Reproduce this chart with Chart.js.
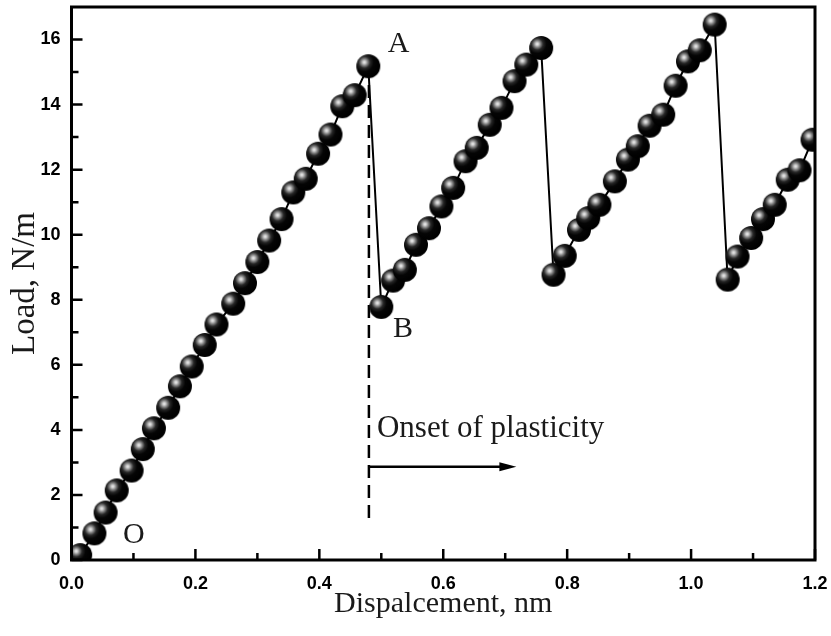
<!DOCTYPE html>
<html><head><meta charset="utf-8">
<script src="https://cdn.jsdelivr.net/npm/chart.js@4/dist/chart.umd.min.js"></script>
<style>html,body{margin:0;padding:0;background:#fff;}</style>
</head><body>
<canvas id="c" width="831" height="636"></canvas>
<script>
// ---- data ----
const displacement = [0.014,0.037,0.055,0.073,0.097,0.115,0.133,0.156,0.175,0.194,0.215,0.234,0.261,0.280,0.300,0.319,0.339,0.358,0.378,0.398,0.418,0.437,0.457,0.479,
  0.500,0.519,0.538,0.556,0.577,0.597,0.616,0.636,0.654,0.675,0.694,0.715,0.734,0.758,
  0.778,0.796,0.819,0.834,0.852,0.877,0.898,0.914,0.933,0.955,0.975,0.995,1.014,1.038,
  1.059,1.075,1.097,1.116,1.135,1.156,1.175,1.196];
const load = [0.15,0.82,1.46,2.14,2.75,3.41,4.05,4.68,5.34,5.95,6.61,7.24,7.88,8.51,9.16,9.82,10.48,11.30,11.72,12.49,13.08,13.95,14.29,15.18,
  7.78,8.59,8.92,9.69,10.20,10.87,11.44,12.26,12.67,13.38,13.90,14.72,15.23,15.74,
  8.77,9.35,10.15,10.51,10.92,11.64,12.31,12.72,13.35,13.69,14.58,15.33,15.67,16.46,
  8.62,9.33,9.90,10.48,10.92,11.69,11.98,12.92];
const xTicks = [0,0.2,0.4,0.6,0.8,1.0,1.2];
const xMinorTicks = [0.1,0.3,0.5,0.7,0.9,1.1];
const yTicks = [0,2,4,6,8,10,12,14,16];
const yMinorTicks = [1,3,5,7,9,11,13,15];
const onsetX = 0.48;
const onsetDash = [1.2, 14.6];
const arrowY = 2.87;
const arrowEndX = 0.718;
const notes = [
  {text:'A', x:0.528, y:15.63, align:'center'},
  {text:'B', x:0.519, y:6.86, align:'left'},
  {text:'O', x:0.083, y:0.52, align:'left'},
  {text:'Onset of plasticity', x:0.493, y:3.78, align:'left'}
];

function makeBall(r){
  const s = Math.ceil(r*2+2);
  const c = document.createElement('canvas'); c.width = s; c.height = s;
  const g = c.getContext('2d'); const cx = s/2, cy = s/2;
  const hx = cx - r*0.33, hy = cy - r*0.33;
  const grad = g.createRadialGradient(hx, hy, 0, hx, hy, r*1.3);
  grad.addColorStop(0, '#f4f4f4');
  grad.addColorStop(0.1, '#c8c8c8');
  grad.addColorStop(0.22, '#808080');
  grad.addColorStop(0.38, '#262626');
  grad.addColorStop(0.6, '#050505');
  grad.addColorStop(1, '#000000');
  g.fillStyle = grad; g.beginPath(); g.arc(cx, cy, r, 0, Math.PI*2); g.fill();
  return c;
}
const ball = makeBall(12);

const serif = "'Liberation Serif', 'Times New Roman', serif";
const sans = "'Liberation Sans', Arial, sans-serif";

const annot = {
  id:'annot',
  beforeDatasetsDraw(chart){
    const {ctx, scales:{x,y}} = chart;
    ctx.save();
    ctx.strokeStyle = '#000'; ctx.lineWidth = 2.5;
    ctx.setLineDash([13,7]);
    ctx.beginPath();
    ctx.moveTo(x.getPixelForValue(onsetX), y.getPixelForValue(onsetDash[1]));
    ctx.lineTo(x.getPixelForValue(onsetX), y.getPixelForValue(onsetDash[0]));
    ctx.stroke();
    ctx.setLineDash([]);
    const ay = y.getPixelForValue(arrowY);
    const x0 = x.getPixelForValue(onsetX), x1 = x.getPixelForValue(arrowEndX);
    ctx.lineWidth = 2.5;
    ctx.beginPath(); ctx.moveTo(x0, ay); ctx.lineTo(x1-14, ay); ctx.stroke();
    ctx.fillStyle = '#000';
    ctx.beginPath(); ctx.moveTo(x1, ay); ctx.lineTo(x1-17, ay-4.5); ctx.lineTo(x1-17, ay+4.5); ctx.closePath(); ctx.fill();
    ctx.fillStyle = '#1a1a1a';
    ctx.textBaseline = 'alphabetic';
    notes.forEach(n => {
      ctx.font = (n.text.length > 1 ? '31px ' : '30px ') + serif;
      ctx.textAlign = n.align;
      ctx.fillText(n.text, x.getPixelForValue(n.x), y.getPixelForValue(n.y));
    });
    ctx.restore();
  }
};

const frame = {
  id:'frame',
  afterDatasetsDraw(chart){
    const {ctx, chartArea:a, scales:{x,y}} = chart;
    ctx.save();
    ctx.strokeStyle = '#000';
    ctx.lineWidth = 2.5;
    ctx.beginPath();
    xTicks.forEach(v => { const p = x.getPixelForValue(v); ctx.moveTo(p, a.bottom); ctx.lineTo(p, a.bottom-11); });
    xMinorTicks.forEach(v => { const p = x.getPixelForValue(v); ctx.moveTo(p, a.bottom); ctx.lineTo(p, a.bottom-7); });
    yTicks.forEach(v => { const p = y.getPixelForValue(v); ctx.moveTo(a.left, p); ctx.lineTo(a.left+11, p); });
    yMinorTicks.forEach(v => { const p = y.getPixelForValue(v); ctx.moveTo(a.left, p); ctx.lineTo(a.left+7, p); });
    ctx.stroke();
    ctx.lineWidth = 3;
    ctx.strokeRect(a.left, a.top, a.right-a.left, a.bottom-a.top);
    ctx.restore();
  }
};

new Chart(document.getElementById('c'), {
  type:'line',
  data:{
    datasets:[{
      data: displacement.map((v,i)=>({x:v, y:load[i]})),
      borderColor:'#000', borderWidth:2, tension:0,
      pointStyle: ball, pointRadius:12, pointHoverRadius:12,
      backgroundColor:'#000'
    }]
  },
  options:{
    responsive:false, animation:false, devicePixelRatio:1,
    layout:{autoPadding:false, padding:{left:0, right:16, top:7, bottom:0}},
    plugins:{legend:{display:false}, tooltip:{enabled:false}},
    events:[],
    scales:{
      x:{
        type:'linear', min:0, max:1.2,
        afterFit(s){ s.height = 76; s.paddingLeft = 0; s.paddingRight = 0; },
        afterBuildTicks(s){ s.ticks = xTicks.map(v=>({value:v})); },
        grid:{display:false, drawTicks:false}, border:{display:false},
        ticks:{font:{family:sans, size:18, weight:'bold'}, color:'#000', padding:13, maxRotation:0, autoSkip:false,
               callback:v=>Number(v).toFixed(1)},
        title:{display:true, text:'Dispalcement, nm', color:'#1a1a1a', font:{family:serif, size:30}, padding:{top:0, bottom:14}}
      },
      y:{
        type:'linear', min:0, max:17,
        afterFit(s){ s.width = 71.5; s.paddingTop = 0; s.paddingBottom = 0; },
        afterBuildTicks(s){ s.ticks = yTicks.map(v=>({value:v})); },
        grid:{display:false, drawTicks:false}, border:{display:false},
        ticks:{font:{family:sans, size:18, weight:'bold'}, color:'#000', padding:11, autoSkip:false,
               callback:v=>String(v)},
        title:{display:true, text:'Load, N/m', color:'#1a1a1a', font:{family:serif, size:33}, padding:{top:6, bottom:0}}
      }
    }
  },
  plugins:[annot, frame]
});
</script>
</body></html>
